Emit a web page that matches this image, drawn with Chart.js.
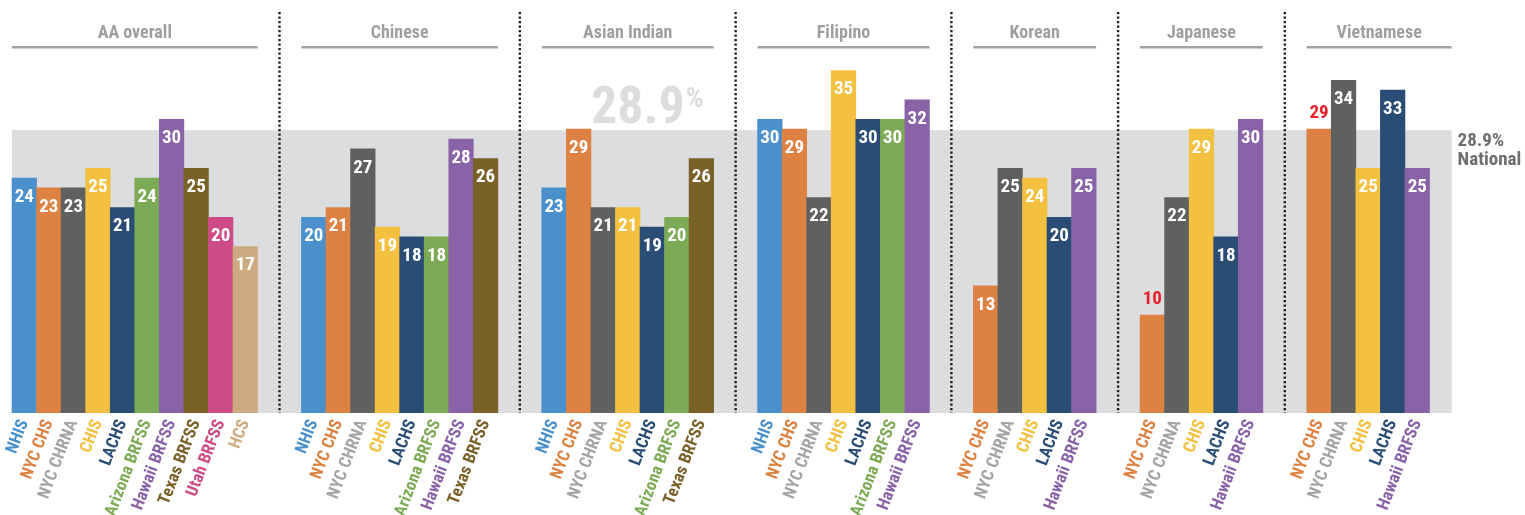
<!DOCTYPE html>
<html><head><meta charset="utf-8">
<script src="https://cdn.jsdelivr.net/npm/chart.js@4"></script>
<style>html,body{margin:0;padding:0;background:#fff;}#wrap{width:1525px;height:515px;position:relative;}</style>
</head><body><div id="wrap"><canvas id="c"></canvas></div>
<script>
// ---------- DATA ----------
const groupTitles = ["AA overall", "Chinese", "Asian Indian", "Filipino", "Korean", "Japanese", "Vietnamese"];
const surveyNames = ["NHIS", "NYC CHS", "NYC CHRNA", "CHIS", "LACHS", "Arizona BRFSS", "Hawaii BRFSS", "Texas BRFSS", "Utah BRFSS", "HCS"];
const surveyBarColors = ["#4a90cd", "#dd8243", "#5f6060", "#f3c03f", "#2a4d75", "#7dab55", "#8962a8", "#7a6128", "#cd4b86", "#cdaa7f"];
const surveyLabelColors = ["#4a90cd", "#dd8243", "#a3a4a6", "#f3c03f", "#2a4d75", "#7dab55", "#8962a8", "#7a6128", "#cd4b86", "#cdaa7f"];

const aaOverallSurveys = ["NHIS", "NYC CHS", "NYC CHRNA", "CHIS", "LACHS", "Arizona BRFSS", "Hawaii BRFSS", "Texas BRFSS", "Utah BRFSS", "HCS"];
const aaOverallValues = [24, 23, 23, 25, 21, 24, 30, 25, 20, 17];
const chineseSurveys = ["NHIS", "NYC CHS", "NYC CHRNA", "CHIS", "LACHS", "Arizona BRFSS", "Hawaii BRFSS", "Texas BRFSS"];
const chineseValues = [20, 21, 27, 19, 18, 18, 28, 26];
const asianIndianSurveys = ["NHIS", "NYC CHS", "NYC CHRNA", "CHIS", "LACHS", "Arizona BRFSS", "Texas BRFSS"];
const asianIndianValues = [23, 29, 21, 21, 19, 20, 26];
const filipinoSurveys = ["NHIS", "NYC CHS", "NYC CHRNA", "CHIS", "LACHS", "Arizona BRFSS", "Hawaii BRFSS"];
const filipinoValues = [30, 29, 22, 35, 30, 30, 32];
const koreanSurveys = ["NYC CHS", "NYC CHRNA", "CHIS", "LACHS", "Hawaii BRFSS"];
const koreanValues = [13, 25, 24, 20, 25];
const japaneseSurveys = ["NYC CHS", "NYC CHRNA", "CHIS", "LACHS", "Hawaii BRFSS"];
const japaneseValues = [10, 22, 29, 18, 30];
const vietnameseSurveys = ["NYC CHS", "NYC CHRNA", "CHIS", "LACHS", "Hawaii BRFSS"];
const vietnameseValues = [29, 34, 25, 33, 25];

const nationalRate = 28.9;
const nationalLabel = ["28.9%", "National"];
// bars whose label is shown in red above the bar
const flaggedBars = ["Japanese|NYC CHS", "Vietnamese|NYC CHS"];

// ---------- LAYOUT ----------
const FONT = "'Roboto Condensed', 'DejaVu Sans Condensed', sans-serif";
const GAP_SLOTS = 1.79;      // empty space between groups, in bar widths
const BAND_EXTRA = 0.9;      // band extension after last group, in bar widths
const X_MIN = -0.99, X_MAX = 61.13, Y_MAX = 42.2;

const groupSurveys = [aaOverallSurveys, chineseSurveys, asianIndianSurveys, filipinoSurveys, koreanSurveys, japaneseSurveys, vietnameseSurveys];
const groupValues = [aaOverallValues, chineseValues, asianIndianValues, filipinoValues, koreanValues, japaneseValues, vietnameseValues];

const points = [], barColors = [], tickLabels = [], tickColors = [], tickPositions = [], flags = [];
const groupSpans = [];
let offset = 0;
groupTitles.forEach((title, g) => {
  const sv = groupSurveys[g], vals = groupValues[g];
  const start = offset;
  sv.forEach((s, i) => {
    const k = surveyNames.indexOf(s);
    const x = offset + i;
    points.push({ x: x, y: vals[i] });
    barColors.push(surveyBarColors[k]);
    tickLabels.push(s);
    tickColors.push(surveyLabelColors[k]);
    tickPositions.push(x);
    flags.push(flaggedBars.includes(title + "|" + s));
  });
  groupSpans.push({ title: title, from: start - 0.5, to: start + sv.length - 0.5 });
  offset += sv.length + GAP_SLOTS;
});

const decorPlugin = {
  id: 'decor',
  beforeDatasetsDraw(chart) {
    const { ctx, scales: { x, y } } = chart;
    const first = groupSpans[0], last = groupSpans[groupSpans.length - 1];
    const bandL = x.getPixelForValue(first.from);
    const bandR = x.getPixelForValue(last.to + BAND_EXTRA);
    const yNat = y.getPixelForValue(nationalRate);
    const y0 = y.getPixelForValue(0);
    ctx.save();
    // band
    ctx.fillStyle = '#dcdddf';
    ctx.fillRect(bandL, yNat, bandR - bandL, y0 - yNat);
    // watermark (Asian Indian group)
    const ai = groupSpans[2];
    const wx = x.getPixelForValue(ai.from + 2);
    ctx.fillStyle = '#dcdddf';
    ctx.textBaseline = 'alphabetic';
    ctx.textAlign = 'left';
    ctx.font = "bold 52px " + FONT;
    const numTxt = nationalLabel[0].replace('%', '');
    ctx.fillText(numTxt, wx, yNat - 7);
    const nw = ctx.measureText(numTxt).width;
    ctx.font = "bold 28px " + FONT;
    ctx.fillText('%', wx + nw + 1, yNat - 23);
    // national label
    ctx.fillStyle = '#6d6e71';
    ctx.font = "bold 19px " + FONT;
    ctx.textBaseline = 'middle';
    ctx.fillText(nationalLabel[0], bandR + 6, yNat + 11);
    ctx.fillText(nationalLabel[1], bandR + 6, yNat + 30);
    // titles & underlines
    groupSpans.forEach((gs, i) => {
      const l = x.getPixelForValue(gs.from);
      const r = x.getPixelForValue(i === groupSpans.length - 1 ? gs.to + BAND_EXTRA : gs.to);
      ctx.fillStyle = '#a0a1a4';
      ctx.fillRect(l, 46, r - l, 2.5);
      ctx.font = "bold 18px " + FONT;
      ctx.textAlign = 'center';
      ctx.textBaseline = 'middle';
      ctx.fillStyle = '#9d9fa2';
      ctx.fillText(gs.title, (l + r) / 2, 33);
    });
    // dotted separators
    ctx.strokeStyle = '#231f20';
    ctx.lineWidth = 2.4;
    ctx.setLineDash([2.2, 2.3]);
    for (let i = 0; i < groupSpans.length - 1; i++) {
      const px = x.getPixelForValue((groupSpans[i].to + groupSpans[i + 1].from) / 2);
      ctx.beginPath();
      ctx.moveTo(px, 12);
      ctx.lineTo(px, y0);
      ctx.stroke();
    }
    ctx.restore();
  },
  afterDatasetsDraw(chart) {
    const { ctx } = chart;
    const meta = chart.getDatasetMeta(0);
    ctx.save();
    ctx.font = "bold 19px " + FONT;
    ctx.textAlign = 'center';
    ctx.textBaseline = 'middle';
    meta.data.forEach((bar, i) => {
      const v = points[i].y;
      if (flags[i]) {
        ctx.fillStyle = '#e8202a';
        ctx.fillText(String(v), bar.x, bar.y - 16);
      } else {
        ctx.fillStyle = '#ffffff';
        ctx.fillText(String(v), bar.x, bar.y + 19);
      }
    });
    ctx.restore();
  }
};

Chart.defaults.font.family = FONT;
new Chart(document.getElementById('c'), {
  type: 'bar',
  data: {
    datasets: [{
      data: points,
      backgroundColor: barColors,
      borderWidth: 0,
      barPercentage: 1,
      categoryPercentage: 1
    }]
  },
  options: {
    responsive: true,
    maintainAspectRatio: false,
    animation: false,
    layout: { padding: 0 },
    plugins: { legend: { display: false }, tooltip: { enabled: false } },
    scales: {
      x: {
        type: 'linear',
        offset: false,
        min: X_MIN,
        max: X_MAX,
        grid: { display: false, drawTicks: false, offset: false },
        border: { display: false },
        afterBuildTicks(scale) { scale.ticks = tickPositions.map(v => ({ value: v })); },
        afterFit(scale) { scale.height = 102; scale.paddingLeft = 0; scale.paddingRight = 0; },
        ticks: {
          autoSkip: false,
          minRotation: 69,
          maxRotation: 69,
          padding: 4,
          font: { size: 17, weight: 'bold' },
          color: (c) => tickColors[c.index],
          callback: (val, idx) => tickLabels[idx]
        }
      },
      y: {
        display: false,
        min: 0,
        max: Y_MAX
      }
    }
  },
  plugins: [decorPlugin]
});
</script>
</body></html>
